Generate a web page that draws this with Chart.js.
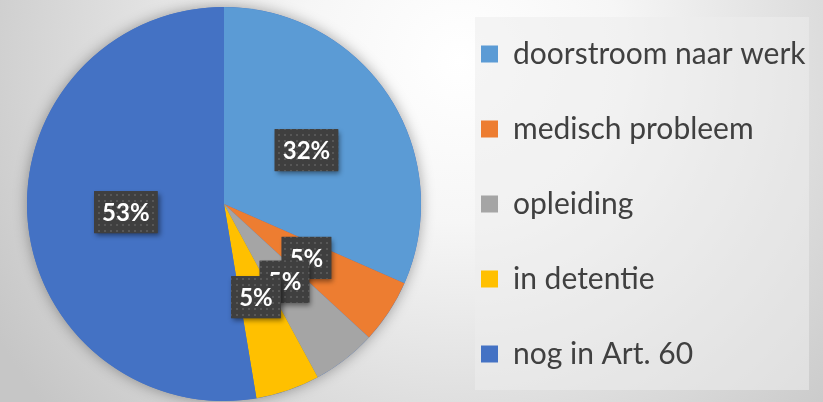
<!DOCTYPE html>
<html lang="nl">
<head>
    <meta charset="UTF-8">
    <title>Uitstroom Art. 60</title>
    <script src="https://cdn.jsdelivr.net/npm/chart.js"></script>
    <style>
        body { margin: 0; background: #d0d0d0; }
        canvas { display: block; }
    </style>
</head>
<body>
    <canvas id="myChart" width="823" height="402"></canvas>

<script>
    // data
    var categorieen = ['doorstroom naar werk', 'medisch probleem', 'opleiding', 'in detentie', 'nog in Art. 60'];
    var aantallen = [6, 1, 1, 1, 10];
    var kleuren = ['#5B9BD5', '#ED7D31', '#A5A5A5', '#FFC000', '#4472C4'];

    // stippelpatroon voor de labelvakjes
    function maakPatroon(ctx) {
        var c = document.createElement('canvas');
        c.width = 6; c.height = 6;
        var p = c.getContext('2d');
        p.fillStyle = '#3f3f3f';
        p.fillRect(0, 0, 6, 6);
        p.fillStyle = '#575757';
        p.fillRect(2, 2, 2, 2);
        return ctx.createPattern(c, 'repeat');
    }

    var achtergrond = {
        id: 'achtergrond',
        beforeDraw: function (chart) {
            var ctx = chart.ctx;
            var g = ctx.createRadialGradient(460, 60, 0, 460, 60, 540);
            g.addColorStop(0, '#ffffff');
            g.addColorStop(0.3, '#f6f6f6');
            g.addColorStop(1, '#c6c6c6');
            ctx.save();
            ctx.fillStyle = g;
            ctx.fillRect(0, 0, chart.width, chart.height);
            // vak achter de legenda
            ctx.fillStyle = 'rgba(237,237,237,0.56)';
            ctx.fillRect(475, 17, 334, 373);
            ctx.restore();
        },
        beforeDatasetsDraw: function (chart) {
            // zachte schaduw rond de taart
            var arc = chart.getDatasetMeta(0).data[0];
            if (!arc) return;
            var ctx = chart.ctx;
            ctx.save();
            ctx.shadowColor = 'rgba(0,0,0,0.35)';
            ctx.shadowBlur = 14;
            ctx.fillStyle = '#4472C4';
            ctx.beginPath();
            ctx.arc(arc.x, arc.y, arc.outerRadius, 0, Math.PI * 2);
            ctx.fill();
            ctx.restore();
        }
    };

    // legenda: vaste breedte en ruimere regelafstand
    var legendaBreedte = {
        id: 'legendaBreedte',
        afterInit: function (chart) {
            var legend = chart.legend;
            var fit = legend.fit;
            var draw = legend.draw;
            legend.fit = function () {
                this.maxHeight = 1000;
                fit.call(this);
                this.width = 387;
                this.height = 394;
            };
            legend.draw = function () {
                var top = this.top, bottom = this.bottom;
                this.top = -6;
                this.bottom = 414;
                draw.call(this);
                this.top = top;
                this.bottom = bottom;
            };
        }
    };

    var labels = {
        id: 'labels',
        afterDatasetsDraw: function (chart) {
            var ctx = chart.ctx;
            var meta = chart.getDatasetMeta(0);
            var totaal = aantallen.reduce(function (a, b) { return a + b; }, 0);
            var patroon = maakPatroon(ctx);
            ctx.save();
            ctx.font = 'bold 24px Lato';
            ctx.textAlign = 'center';
            ctx.textBaseline = 'middle';
            meta.data.forEach(function (arc, i) {
                var pos = arc.tooltipPosition();
                var tekst = Math.round(aantallen[i] / totaal * 100) + '%';
                var w = ctx.measureText(tekst).width + 16;
                var h = 42;
                ctx.save();
                ctx.shadowColor = 'rgba(0,0,0,0.45)';
                ctx.shadowBlur = 5;
                ctx.shadowOffsetX = 2;
                ctx.shadowOffsetY = 3;
                ctx.fillStyle = '#404040';
                ctx.fillRect(pos.x - w / 2, pos.y - h / 2, w, h);
                ctx.restore();
                ctx.fillStyle = patroon;
                ctx.fillRect(pos.x - w / 2, pos.y - h / 2, w, h);
                ctx.fillStyle = '#ffffff';
                ctx.fillText(tekst, pos.x, pos.y + 1);
            });
            ctx.restore();
        }
    };

    const ctx = document.getElementById('myChart');

    new Chart(ctx, {
        type: 'pie',
        data: {
            labels: categorieen,
            datasets: [{
                data: aantallen,
                backgroundColor: kleuren,
                borderWidth: 0
            }]
        },
        options: {
            responsive: false,
            animation: false,
            layout: {
                padding: { left: 12, top: 7, bottom: 1, right: 0 }
            },
            plugins: {
                tooltip: { enabled: false },
                legend: {
                    position: 'right',
                    labels: {
                        boxWidth: 17,
                        boxHeight: 17,
                        padding: 45,
                        color: '#404040',
                        font: { family: 'Lato', size: 30 }
                    }
                }
            }
        },
        plugins: [achtergrond, legendaBreedte, labels]
    });
</script>
</body>
</html>
